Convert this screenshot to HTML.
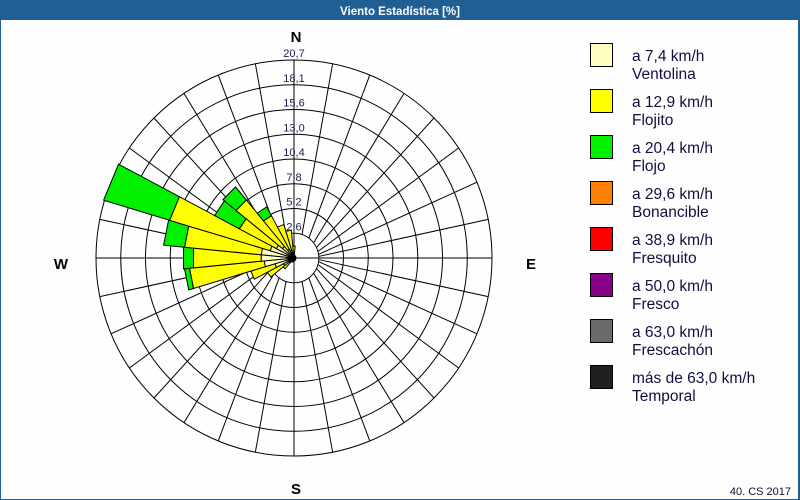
<!DOCTYPE html>
<html><head><meta charset="utf-8"><style>
html,body{margin:0;padding:0;width:800px;height:500px;overflow:hidden;background:#fff}
svg{display:block}
text{font-family:"Liberation Sans",sans-serif}
</style></head><body>
<svg id="s" width="800" height="500" xmlns="http://www.w3.org/2000/svg">
<rect x="0" y="0" width="800" height="500" fill="#1f5f94"/>
<rect x="1" y="20" width="797" height="479" fill="#fdfefd"/>
<text x="400" y="15" fill="#fff" font-size="11.5" font-weight="bold" text-anchor="middle">Viento Estadística [%]</text>
<g id="grid" stroke="#000" stroke-width="1" fill="none"></g>
<g id="bars" stroke="#000" stroke-width="1"></g>
<g id="lbl" fill="#202050" font-size="11" text-anchor="middle"></g>
<text x="296" y="42" font-size="15" font-weight="bold" text-anchor="middle">N</text>
<text x="296" y="494" font-size="15" font-weight="bold" text-anchor="middle">S</text>
<text x="61" y="269" font-size="15" font-weight="bold" text-anchor="middle">W</text>
<text x="531" y="269" font-size="15" font-weight="bold" text-anchor="middle">E</text>
<g id="leg" font-size="15.5" fill="#101040"></g>
<text x="791" y="495" font-size="11" fill="#101030" text-anchor="end">40. CS 2017</text>
</svg>
<script>
var NS="http://www.w3.org/2000/svg",cx=294,cy=258,R=198;
function el(p,t,a,txt){var e=document.createElementNS(NS,t);for(var k in a)e.setAttribute(k,a[k]);if(txt)e.textContent=txt;document.getElementById(p).appendChild(e);return e;}
function pt(b,r){var a=b*Math.PI/180;return [cx+r*Math.sin(a),cy-r*Math.cos(a)];}
for(var i=1;i<=8;i++){el("grid","circle",{cx:cx,cy:cy,r:R*i/8});}
for(var k=0;k<32;k++){var t=k*11.25;if(k%8==0)continue;var ti=t+20*Math.sin(2*t*Math.PI/180);
var a=pt(ti,R/8),b=pt(t,R);el("grid","line",{x1:a[0],y1:a[1],x2:b[0],y2:b[1]});}
el("grid","circle",{cx:cx,cy:cy,r:R/8-0.5,fill:"#fff",stroke:"none"});
el("grid","line",{x1:cx,y1:cy-R,x2:cx,y2:cy+R});
el("grid","line",{x1:cx-R,y1:cy,x2:cx+R,y2:cy});
var labs=["2,6","5,2","7,8","10,4","13,0","15,6","18,1","20,7"];
for(var i=0;i<8;i++){el("lbl","text",{x:cx,y:cy-R*(i+1)/8-3},labs[i]);}
var data=[[236.25,12,30,30],[247.5,20,45,45],[258.75,30,105,110],[270,33,101,111],[281.25,33,110,131],[292.5,25,130,199],[303.75,20,62,90],[315,15,75,92],[326.25,10,48,58],[337.5,8,35,35],[348.75,6,28,28],[0,4,12,12],[225,6,14,14]];
var cols=["#ffffc4","#ffff00","#00f000"];
function seg(b,r0,r1,c){if(r1<=r0)return;var h=5.625;var p=[pt(b-h,r0),pt(b-h,r1),pt(b+h,r1),pt(b+h,r0)];
el("bars","polygon",{points:p.map(function(q){return q[0].toFixed(1)+","+q[1].toFixed(1)}).join(" "),fill:c});}
data.forEach(function(d){seg(d[0],0,d[1],cols[0]);seg(d[0],d[1],d[2],cols[1]);seg(d[0],d[2],d[3],cols[2]);});
el("bars","circle",{cx:cx-2,cy:cy,r:4,fill:"#000"});
var L=[["#ffffc4","a 7,4 km/h","Ventolina"],["#ffff00","a 12,9 km/h","Flojito"],["#00f000","a 20,4 km/h","Flojo"],["#ff7f00","a 29,6 km/h","Bonancible"],["#ff0000","a 38,9 km/h","Fresquito"],["#880088","a 50,0 km/h","Fresco"],["#6a6a6a","a 63,0 km/h","Frescachón"],["#202020","más de 63,0 km/h","Temporal"]];
L.forEach(function(l,i){var y=43+i*46;el("leg","rect",{x:590.5,y:y+0.5,width:22,height:23,fill:l[0],stroke:"#000"});
el("leg","text",{x:632,y:y+18},l[1]);el("leg","text",{x:632,y:y+36},l[2]);});
</script>
</body></html>
